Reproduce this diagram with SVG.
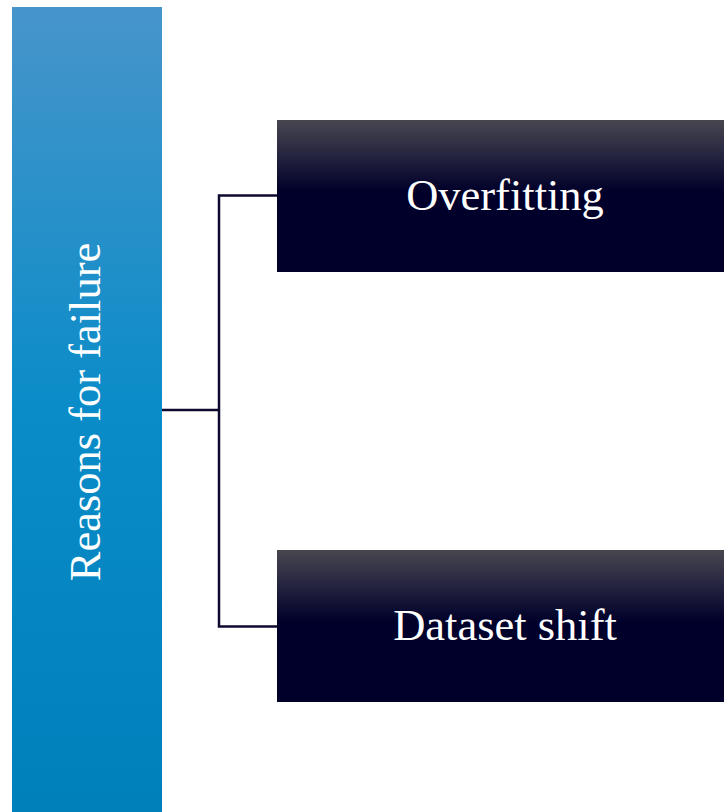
<svg xmlns="http://www.w3.org/2000/svg" width="724" height="812" viewBox="0 0 724 812">
  <defs>
    <linearGradient id="barFill" x1="0" y1="0" x2="0" y2="1">
      <stop offset="0" stop-color="#4795CA"/>
      <stop offset="0.5" stop-color="#0A8CC8"/>
      <stop offset="1" stop-color="#0080BB"/>
    </linearGradient>
    <linearGradient id="boxFill" x1="0" y1="0" x2="0" y2="1">
      <stop offset="0" stop-color="#47464F"/>
      <stop offset="0.2" stop-color="#2A2942"/>
      <stop offset="0.47" stop-color="#00002A"/>
      <stop offset="1" stop-color="#00002A"/>
    </linearGradient>
  </defs>
  <style>
    .label { font-family: "Liberation Serif", "Times New Roman", serif; font-size: 44.5px; fill: #FFFFFF; text-anchor: middle; dominant-baseline: central; }
    .conn { fill: none; stroke: #0D0A30; stroke-width: 2.5; }
  </style>

  <!-- connectors: root bar to both branches -->
  <g id="connectors">
    <path class="conn" d="M162 410 H219"/>
    <path class="conn" d="M277 195.5 H219 V626.5 H277"/>
  </g>

  <g id="root">
    <rect x="12" y="7" width="150" height="805" fill="url(#barFill)"/>
    <text class="label" transform="translate(85 412) rotate(-90)">Reasons for failure</text>
  </g>

  <g id="overfitting">
    <rect x="277" y="120" width="447" height="152" fill="url(#boxFill)"/>
    <text class="label" x="505" y="195">Overfitting</text>
  </g>

  <g id="dataset-shift">
    <rect x="277" y="550" width="447" height="152" fill="url(#boxFill)"/>
    <text class="label" x="505" y="625">Dataset shift</text>
  </g>
</svg>
